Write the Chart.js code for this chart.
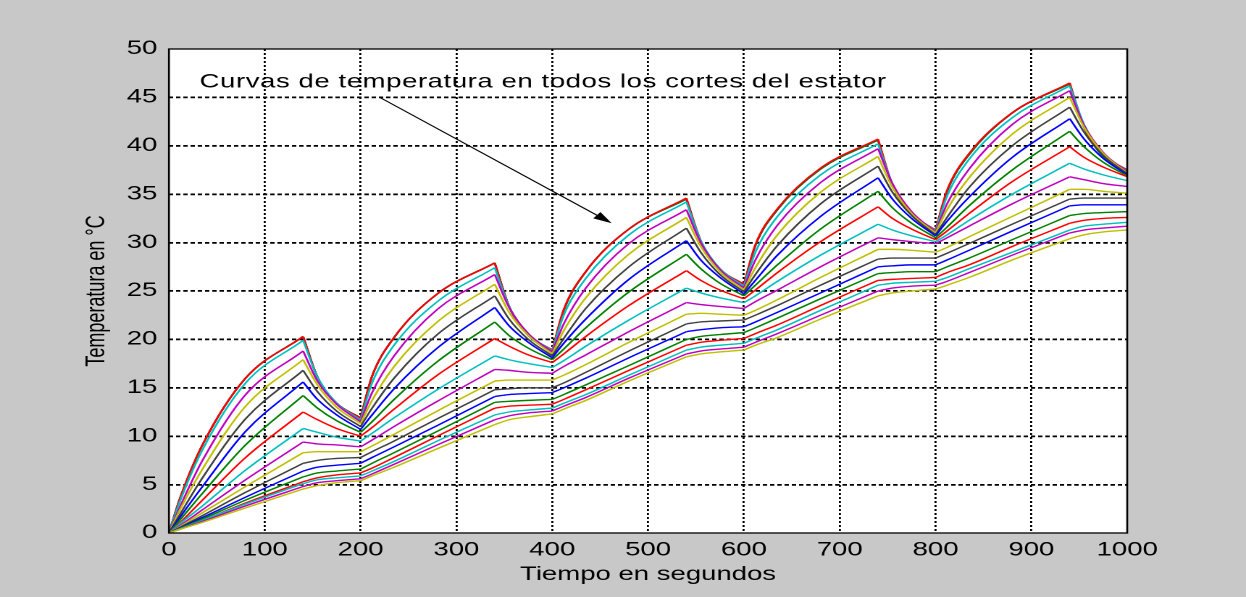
<!DOCTYPE html>
<html>
<head>
<meta charset="utf-8">
<script src="https://cdn.jsdelivr.net/npm/chart.js@4/dist/chart.umd.min.js"></script>
<style>
  html, body { margin: 0; padding: 0; background: #c8c8c8; overflow: hidden; width: 1246px; height: 597px; }
  #wrap { width: 860px; height: 597px; transform: scaleX(1.448837); transform-origin: 0 0; }
</style>
</head>
<body>
<div id="wrap"><canvas id="c" width="860" height="597"></canvas></div>
<script>
// ---- data ----
const times = [0,12,35,80,140,155,175,200,212,235,280,340,355,375,400,412,435,480,540,555,575,600,612,635,680,740,755,775,800,812,835,880,940,955,975,1000];
const heatingEnd = 140;   // seconds into each 200 s cycle where heating stops
const cycle = 200;

const curve01 = [0,3.7,9.1,16.0,20.3,16.1,13.4,11.9,16.2,20.2,24.7,27.9,23.4,20.4,18.8,23.0,27.0,31.4,34.5,30.1,27.2,25.6,29.7,33.4,37.6,40.6,35.9,32.9,31.2,35.3,39.1,43.4,46.4,41.9,38.9,37.3];
const curve02 = [0,3.7,9.1,16.0,20.3,16.1,13.4,11.9,16.2,20.2,24.7,27.9,23.4,20.4,18.8,23.0,27.0,31.4,34.5,30.1,27.2,25.6,29.7,33.4,37.6,40.6,35.9,32.9,31.2,35.3,39.1,43.4,46.4,41.9,38.9,37.4];
const curve03 = [0,3.7,9.1,16.0,20.3,16.1,13.4,11.9,16.2,20.2,24.7,27.9,23.4,20.5,18.9,23.1,27.0,31.4,34.6,30.2,27.3,25.7,29.8,33.5,37.7,40.7,36.0,33.0,31.3,35.4,39.2,43.4,46.5,42.0,39.1,37.5];
const curve04 = [0,3.4,8.6,15.5,19.9,16.1,13.4,11.7,15.5,19.4,23.9,27.4,23.4,20.6,18.8,22.5,26.3,30.8,34.2,30.2,27.3,25.5,29.0,32.7,37.0,40.2,36.1,33.1,31.2,34.8,38.6,42.9,46.2,42.2,39.2,37.4];
const curve05 = [0,2.8,7.5,14.3,18.8,15.7,13.3,11.5,14.5,18.3,23.1,26.7,23.3,20.6,18.7,21.6,25.3,29.9,33.4,30.0,27.2,25.3,28.2,31.8,36.2,39.7,36.1,33.2,31.1,34.0,37.6,42.2,45.7,42.1,39.3,37.3];
const curve06 = [0,2.5,6.6,13.1,17.9,15.3,13.0,11.3,13.7,17.2,21.8,25.7,22.8,20.4,18.5,20.9,24.3,28.8,32.6,29.6,27.0,25.1,27.4,30.8,35.2,38.9,35.7,33.0,31.0,33.4,36.7,41.2,45.0,41.9,39.2,37.2];
const curve07 = [0,2.0,5.7,11.8,16.8,14.6,12.6,11.0,12.9,16.0,20.5,24.5,22.1,20.0,18.3,20.1,23.2,27.5,31.5,29.0,26.7,24.9,26.7,29.7,34.0,37.9,35.2,32.8,30.8,32.6,35.7,40.0,44.0,41.4,39.0,37.1];
const curve08 = [0,1.7,4.8,10.5,15.6,13.8,12.2,10.7,12.2,14.9,19.1,23.3,21.4,19.7,18.1,19.6,22.1,26.2,30.2,28.2,26.4,24.7,26.1,28.7,32.7,36.7,34.5,32.5,30.7,32.2,34.7,38.8,42.8,40.7,38.7,37.0];
const curve09 = [0,1.4,4.1,9.1,14.2,12.9,11.6,10.4,11.5,13.8,17.7,21.8,20.4,19.1,17.9,19.0,21.2,24.9,28.8,27.3,25.8,24.5,25.6,27.7,31.4,35.3,33.6,32.0,30.5,31.6,33.8,37.5,41.5,39.9,38.3,36.9];
const curve10 = [0,1.1,3.4,7.8,12.5,11.7,10.8,10.0,10.9,12.8,16.3,20.1,19.3,18.4,17.6,18.5,20.3,23.5,27.1,26.1,25.1,24.2,25.1,26.9,30.1,33.7,32.5,31.4,30.3,31.2,33.0,36.3,39.9,38.8,37.8,36.8];
const curve11 = [0,1.0,2.8,6.5,10.8,10.4,9.9,9.5,10.3,11.9,14.8,18.3,17.9,17.5,17.1,17.8,19.3,22.0,25.3,24.8,24.3,23.8,24.5,26.0,28.7,31.9,31.3,30.7,30.1,30.8,32.3,35.0,38.2,37.6,37.0,36.4];
const curve12 = [0,0.8,2.4,5.5,9.4,9.2,9.1,8.9,9.6,11.0,13.6,16.9,16.8,16.6,16.5,17.2,18.4,20.8,23.8,23.6,23.4,23.2,23.9,25.1,27.5,30.5,30.3,30.1,29.9,30.5,31.7,34.0,36.8,36.5,36.1,35.8];
const curve13 = [0,0.7,2.1,4.8,8.3,8.4,8.4,8.4,9.0,10.2,12.6,15.7,15.8,15.8,15.8,16.3,17.4,19.7,22.6,22.7,22.6,22.5,23.0,24.1,26.4,29.3,29.3,29.2,29.0,29.5,30.6,32.7,35.5,35.5,35.3,35.1];
const curve14 = [0,0.6,1.8,4.2,7.2,7.5,7.7,7.8,8.4,9.5,11.8,14.8,14.9,15.0,15.0,15.5,16.6,18.8,21.6,21.8,21.9,22.0,22.5,23.5,25.6,28.3,28.4,28.4,28.4,28.9,29.9,31.9,34.5,34.6,34.6,34.6];
const curve15 = [0,0.55,1.6,3.7,6.4,6.8,7.0,7.2,7.8,8.9,11.1,14.1,14.3,14.4,14.5,15.0,16.0,18.1,20.8,21.0,21.2,21.3,21.8,22.8,24.8,27.5,27.6,27.7,27.7,28.2,29.2,31.2,33.8,33.9,33.9,33.9];
const curve16 = [0,0.5,1.45,3.4,5.8,6.2,6.4,6.6,7.2,8.3,10.5,13.5,13.6,13.7,13.8,14.3,15.3,17.3,20.0,20.3,20.5,20.7,21.2,22.2,24.2,26.8,26.9,27.0,27.0,27.5,28.4,30.3,32.8,33.0,33.1,33.2];
const curve17 = [0,0.45,1.3,3.1,5.3,5.7,6.0,6.2,6.7,7.8,10.0,12.9,13.1,13.2,13.3,13.8,14.8,16.8,19.4,19.7,19.9,20.1,20.6,21.5,23.5,26.1,26.2,26.3,26.4,26.9,27.7,29.6,32.0,32.3,32.5,32.6];
const curve18 = [0,0.45,1.3,3.0,5.1,5.5,5.7,5.9,6.4,7.4,9.5,12.2,12.5,12.7,12.9,13.4,14.3,16.3,18.9,19.2,19.4,19.6,20.1,21.0,23.0,25.6,25.8,25.9,26.0,26.4,27.3,29.0,31.3,31.7,31.9,32.1];
const curve19 = [0,0.4,1.2,2.8,4.8,5.2,5.4,5.6,6.1,7.1,9.1,11.7,12.1,12.4,12.6,13.1,14.0,16.0,18.5,18.8,19.0,19.2,19.7,20.6,22.5,25.0,25.3,25.5,25.6,26.0,26.9,28.7,31.0,31.3,31.5,31.7];
const curve20 = [0,0.4,1.1,2.6,4.55,4.9,5.2,5.4,5.9,6.8,8.7,11.2,11.7,12.0,12.3,12.8,13.7,15.7,18.2,18.5,18.7,18.9,19.4,20.2,22.1,24.5,24.8,25.0,25.2,25.6,26.4,28.2,30.4,30.8,31.1,31.3];

const curves = [curve01,curve02,curve03,curve04,curve05,curve06,curve07,curve08,curve09,curve10,
                curve11,curve12,curve13,curve14,curve15,curve16,curve17,curve18,curve19,curve20];

const xTicks = [0,100,200,300,400,500,600,700,800,900,1000];
const yTicks = [0,5,10,15,20,25,30,35,40,45,50];

const xTitle = 'Tiempo en segundos';
const yTitle = 'Temperatura en °C';
const noteText = 'Curvas de temperatura en todos los cortes del estator';
const noteAt = {x: 32, y: 46.55};
const arrowFrom = {x: 220, y: 45.0};
const arrowTo = {x: 462, y: 32.0};

// MATLAB classic colour order
const colorOrder = ['#0000ff','#008000','#ff0000','#00bfbf','#bf00bf','#bfbf00','#404040'];

const FONT = '"Liberation Sans", Arial, sans-serif';

// heating-phase and cooling-phase points are drawn as separate smooth pieces,
// so the corners at the start/end of heating stay sharp as in the reference
const isHeating = (t) => (t % cycle) <= heatingEnd;
const isCooling = (t) => t > 0 && ((t % cycle) >= heatingEnd || (t % cycle) === 0);

const datasets = [];
curves.forEach((vals, k) => {
  const color = colorOrder[k % colorOrder.length];
  const base = { borderColor: color, borderWidth: 1.4, pointRadius: 0, fill: false,
                 cubicInterpolationMode: 'monotone', spanGaps: false, order: curves.length - k };
  datasets.push(Object.assign({}, base, {
    data: times.map((t, i) => ({x: t, y: isHeating(t) ? vals[i] : null}))
  }));
  datasets.push(Object.assign({}, base, {
    data: times.map((t, i) => ({x: t, y: isCooling(t) ? vals[i] : null}))
  }));
});

const framePlugin = {
  id: 'frame',
  beforeDraw(chart) {
    const {ctx, chartArea: a} = chart;
    ctx.save();
    ctx.fillStyle = '#ffffff';
    ctx.fillRect(a.left, a.top, a.right - a.left, a.bottom - a.top);
    ctx.restore();
  },
  afterDatasetsDraw(chart) {
    const {ctx, chartArea: a, scales} = chart;
    const xs = scales.x, ys = scales.y;
    ctx.save();
    ctx.fillStyle = '#000';
    ctx.font = '19px ' + FONT;
    try { ctx.letterSpacing = '0.4px'; } catch (e) {}
    ctx.textBaseline = 'middle';
    ctx.textAlign = 'left';
    ctx.fillText(noteText, xs.getPixelForValue(noteAt.x), ys.getPixelForValue(noteAt.y));
    try { ctx.letterSpacing = '0px'; } catch (e) {}
    const x1 = xs.getPixelForValue(arrowFrom.x), y1 = ys.getPixelForValue(arrowFrom.y);
    const x2 = xs.getPixelForValue(arrowTo.x), y2 = ys.getPixelForValue(arrowTo.y);
    const ang = Math.atan2(y2 - y1, x2 - x1);
    const hl = 13, hw = 4;
    const bx = x2 - hl * Math.cos(ang), by = y2 - hl * Math.sin(ang);
    ctx.strokeStyle = '#000';
    ctx.lineWidth = 1;
    ctx.beginPath();
    ctx.moveTo(x1, y1);
    ctx.lineTo(bx, by);
    ctx.stroke();
    ctx.beginPath();
    ctx.moveTo(x2, y2);
    ctx.lineTo(bx + hw * Math.sin(ang), by - hw * Math.cos(ang));
    ctx.lineTo(bx - hw * Math.sin(ang), by + hw * Math.cos(ang));
    ctx.closePath();
    ctx.fillStyle = '#000';
    ctx.fill();
    ctx.lineWidth = 1.3;
    ctx.strokeStyle = '#000';
    ctx.strokeRect(a.left, a.top, a.right - a.left, a.bottom - a.top);
    ctx.restore();
  }
};

const edgeHidden = (lo, hi) => (c) => (c.tick && (c.tick.value === lo || c.tick.value === hi)) ? 'rgba(0,0,0,0)' : '#000';

new Chart(document.getElementById('c'), {
  type: 'line',
  data: { datasets },
  options: {
    responsive: false,
    animation: false,
    devicePixelRatio: 2,
    layout: { padding: { left: 50, right: 82, top: 49, bottom: 0 } },
    plugins: { legend: { display: false }, tooltip: { enabled: false } },
    scales: {
      x: {
        type: 'linear',
        min: xTicks[0],
        max: xTicks[xTicks.length - 1],
        afterBuildTicks: (s) => { s.ticks = xTicks.map(v => ({value: v})); },
        afterFit: (s) => { s.height = 64; },
        ticks: { font: { family: FONT, size: 19 }, color: '#000', padding: 6, maxRotation: 0, autoSkip: false,
                 callback: (v) => String(v) },
        grid: { color: edgeHidden(xTicks[0], xTicks[xTicks.length - 1]), lineWidth: 1.4, drawTicks: false },
        border: { display: false, dash: [2, 2] },
        title: { display: true, text: xTitle, color: '#000', font: { family: FONT, size: 19 }, padding: { top: 0, bottom: 11 } }
      },
      y: {
        type: 'linear',
        min: yTicks[0],
        max: yTicks[yTicks.length - 1],
        afterBuildTicks: (s) => { s.ticks = yTicks.map(v => ({value: v})); },
        afterFit: (s) => { s.width = 66.6; },
        ticks: { font: { family: FONT, size: 19 }, color: '#000', padding: 8, callback: (v) => String(v) },
        grid: { color: edgeHidden(yTicks[0], yTicks[yTicks.length - 1]), lineWidth: 1.7, drawTicks: false },
        border: { display: false, dash: [3, 2] },
        title: { display: true, text: yTitle, color: '#000', font: { family: FONT, size: 18 }, padding: { top: 6.2, bottom: 0 } }
      }
    }
  },
  plugins: [framePlugin]
});
</script>
</body>
</html>
